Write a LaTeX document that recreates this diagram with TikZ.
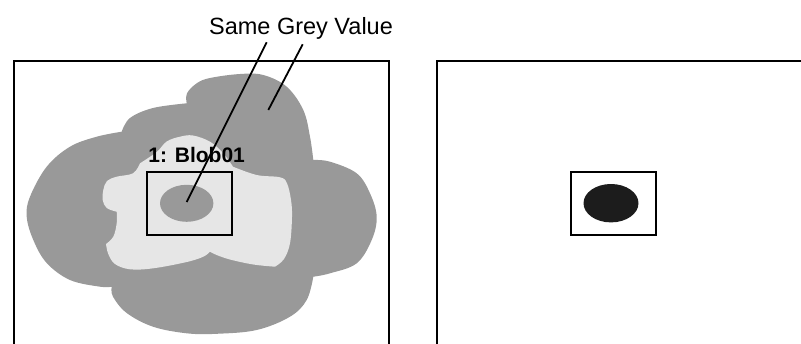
\documentclass[tikz,border=0pt]{standalone}
\usepackage{fontspec}
\setmainfont{Liberation Sans}
\definecolor{dgrey}{HTML}{999999}
\definecolor{lgrey}{HTML}{E6E6E6}
\definecolor{blobblack}{HTML}{1C1C1C}
\begin{document}
\begin{tikzpicture}[x=1pt,y=-1pt,
  frame/.style={draw=black,line width=2.2pt},
  roibox/.style={draw=black,line width=2pt},
  leader/.style={draw=black,line width=1.8pt}]
\useasboundingbox (0,0) rectangle (801,343);
\clip (0,0) rectangle (801,343);
% dark grey cloud
\fill[dgrey]
  plot[smooth,tension=0.6] coordinates {(186.7,103.3) (187,93.3) (196.7,83.3) (210,78) (240,74) (263.3,75) (286.7,86.7) (303.3,110) (310,136.7) (313.3,160)}
  -- plot[smooth,tension=0.6] coordinates {(313.3,160) (330,161.7) (356.7,173.3) (370,193.3) (376.7,216.7) (371.7,240) (356.7,263.3) (330,273.3) (313.3,276.7)}
  -- plot[smooth,tension=0.6] coordinates {(313.3,276.7) (306.7,300) (290,316.7) (256.7,330) (216.7,333.8) (186.7,333.3) (153,326.7) (126.7,313) (113,296.7) (111.7,286.7)}
  -- plot[smooth,tension=0.6] coordinates {(111.7,286.7) (100,286.7) (70,280) (46.7,263) (33.3,240) (26.7,216.7) (30,196.7) (46.7,166.7) (70,146.7) (96.7,136.7) (121.7,131.7)}
  -- plot[smooth,tension=0.6] coordinates {(121.7,131.7) (130,118) (153,108) (186.7,103.3)}
  -- cycle;
% light grey region
\fill[lgrey]
  plot[smooth,tension=0.6] coordinates {(140,163.3) (156.7,152) (166.7,141.5) (180,136.7) (193,135.5) (210,141.7) (223,153) (233,166.7)}
  -- plot[smooth,tension=0.6] coordinates {(233,166.7) (256.7,175) (280,177.3) (287,183.3) (291,200) (292,216.7) (290,243.3) (284,259) (275,266.7)}
  -- plot[smooth,tension=0.6] coordinates {(275,266.7) (253.3,264.5) (230,259.5) (216.7,255) (210,251.7)}
  -- plot[smooth,tension=0.6] coordinates {(210,251.7) (203.3,256.7) (186.7,262) (153.3,268.3) (130,269.3) (115,264) (108.3,254) (106,244)}
  -- plot[smooth,tension=0.6] coordinates {(106,244) (113.3,236.7) (116.7,223.3) (116.7,211.7)}
  -- plot[smooth,tension=0.6] coordinates {(116.7,211.7) (106.7,208) (102.7,200) (103.3,190) (107,181) (116.7,176.7) (133,173.3) (140,163.3)}
  -- cycle;
% left frame and contents
\draw[frame] (14,61) rectangle (389,360);
\draw[roibox] (146.7,171.7) rectangle (232.3,234.7);
\fill[dgrey] (186.7,203.3) ellipse [x radius=26.7, y radius=18.5];
\node[font=\bfseries\fontsize{21}{24}\selectfont,anchor=base,inner sep=0pt] (blobl) at (196.7,162.7) {1: Blob01};
% right frame and contents
\draw[frame] (437,61) rectangle (820,360);
\draw[roibox] (570.7,171.7) rectangle (656,234.7);
\fill[blobblack] (611,203.2) ellipse [x radius=27.5, y radius=19.2];
% caption and leaders
\node[font=\fontsize{23.5}{26}\selectfont,anchor=base,inner sep=0pt] (cap) at (301,34) {Same Grey Value};
\coordinate (s1) at (266.7,42.3);
\coordinate (e1) at (186.7,202);
\coordinate (s2) at (302.7,44.3);
\coordinate (e2) at (268.3,110);
\draw[leader] (s1) -- (e1);
\draw[leader] (s2) -- (e2);
\end{tikzpicture}
\end{document}
